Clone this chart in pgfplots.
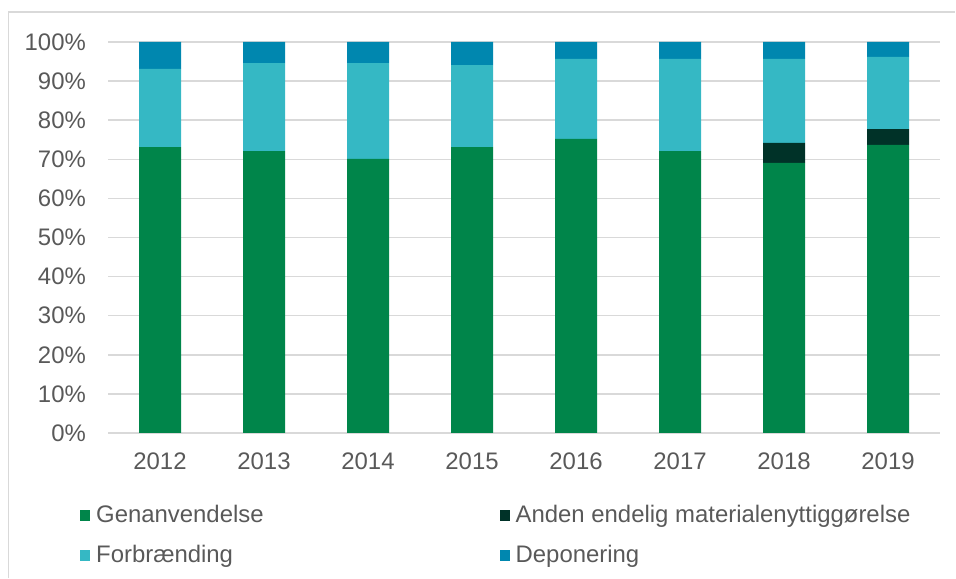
\documentclass[border=0pt]{standalone}
\usepackage{pgfplots}
\pgfplotsset{compat=1.18}
\usepackage{fontspec}
\setmainfont{Liberation Sans}
\definecolor{gen}{HTML}{00854A}
\definecolor{anden}{HTML}{003228}
\definecolor{forb}{HTML}{35B8C4}
\definecolor{dep}{HTML}{0087AF}
\definecolor{txt}{HTML}{595959}
\definecolor{grd}{HTML}{D9D9D9}
\begin{document}
\fontsize{24}{28}\selectfont
\begin{tikzpicture}[x=1bp,y=1bp]
\path (0,0) rectangle (956,579);
\draw[grd, line width=1.2bp] (8.6,0.6) -- (8.6,567) -- (955.4,567);
\begin{axis}[
  at={(108bp,146bp)}, anchor=south west,
  scale only axis, width=832bp, height=391bp,
  ybar stacked, bar width=42bp,
  xmin=-0.5, xmax=7.5, ymin=0, ymax=100,
  xtick={0,...,7},
  xticklabels={2012,2013,2014,2015,2016,2017,2018,2019},
  ytick={0,10,...,100},
  yticklabel={\pgfmathprintnumber[assume math mode=true]{\tick}\%},
  ymajorgrids, grid style={draw=grd, line width=1.5bp},
  axis x line*=bottom, axis y line*=left,
  x axis line style={draw=grd, line width=1.5bp, -},
  y axis line style={draw=none},
  tick style={draw=none},
  ticklabel style={font=\fontsize{24}{28}\selectfont, text=txt},
  xticklabel style={yshift=-12bp},
  yticklabel style={xshift=-14bp},
  legend columns=2,
  legend cell align=left,
  legend style={draw=none, fill=none, inner sep=0pt, font=\fontsize{24}{28}\selectfont, text=txt,
    nodes={inner sep=0pt},
    at={(axis description cs:-0.0337,-0.185)}, anchor=north west,
    /tikz/every odd column/.append style={column sep=6bp},
    /tikz/every even column/.append style={column sep=236bp},
    row sep=19bp},
  legend image code/.code={\fill[#1] (0bp,-5.5bp) rectangle (10bp,5.5bp);},
]
\addplot[fill=gen, draw=none] coordinates {(0,73.1) (1,72.1) (2,70.1) (3,73.1) (4,75.2) (5,72.1) (6,69.1) (7,73.7)};
\addplot[fill=anden, draw=none] coordinates {(0,0) (1,0) (2,0) (3,0) (4,0) (5,0) (6,5.1) (7,4.0)};
\addplot[fill=forb, draw=none] coordinates {(0,20.0) (1,22.5) (2,24.5) (3,21.0) (4,20.5) (5,23.6) (6,21.5) (7,18.5)};
\addplot[fill=dep, draw=none] coordinates {(0,6.9) (1,5.4) (2,5.4) (3,5.9) (4,4.3) (5,4.3) (6,4.3) (7,3.8)};
\legend{Genanvendelse, Anden endelig materialenyttiggørelse, Forbrænding, Deponering}
\end{axis}
\end{tikzpicture}
\end{document}
